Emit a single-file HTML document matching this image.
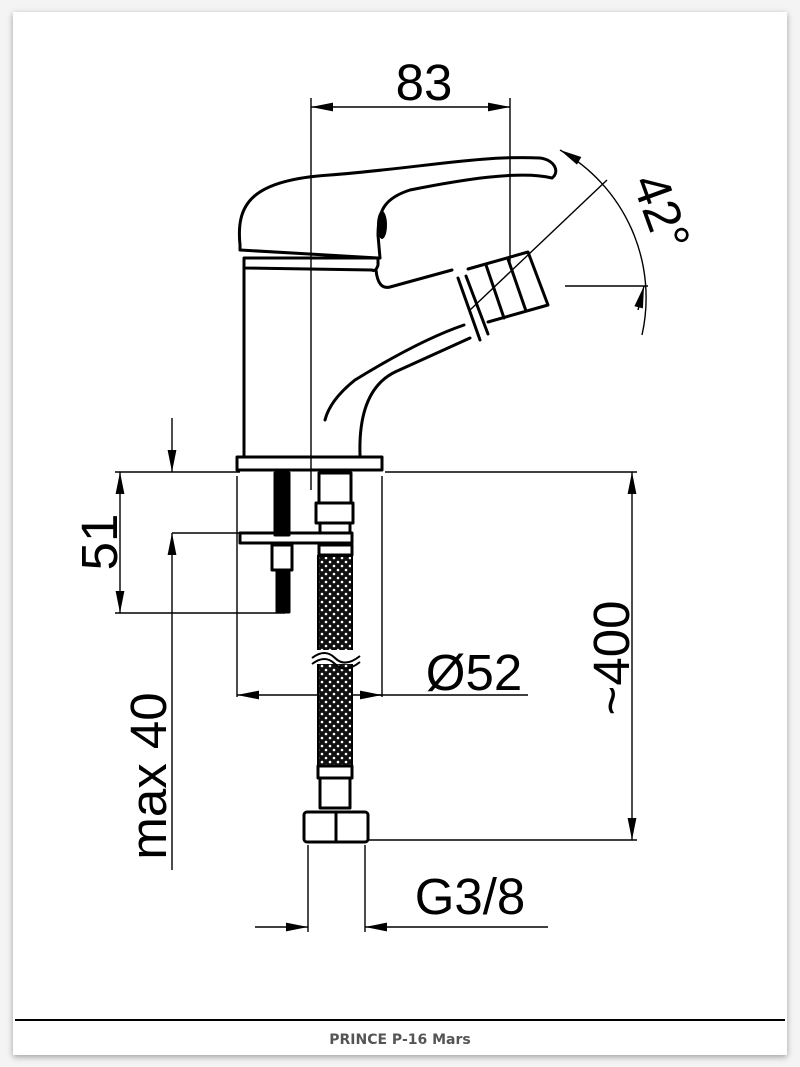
<!DOCTYPE html>
<html><head><meta charset="utf-8"><style>
html,body{margin:0;padding:0;background:#f4f4f4;}
body{width:800px;height:1067px;position:relative;overflow:hidden;}
.card{position:absolute;left:13px;top:12px;width:774px;height:1043px;background:#fff;box-shadow:0 2px 6px rgba(0,0,0,.35);}
svg{position:absolute;left:0;top:0;}
.cap{position:absolute;left:0;width:800px;top:1032px;text-align:center;font:bold 14px "DejaVu Sans","Liberation Sans",sans-serif;color:#555;}
</style></head><body>
<div class="card"></div>
<svg width="800" height="1067" viewBox="0 0 800 1067" xmlns="http://www.w3.org/2000/svg">
<defs>
<marker id="b" viewBox="0 0 20 10" refX="20" refY="5" markerWidth="24" markerHeight="11" markerUnits="userSpaceOnUse" orient="auto-start-reverse"><path d="M0,1 L20,5 L0,9z" fill="#000"/></marker>
<pattern id="mesh" width="8" height="8" patternUnits="userSpaceOnUse"><rect width="8" height="8" fill="#111"/><circle cx="2" cy="2" r="1.3" fill="#fff"/><circle cx="6" cy="6" r="1.3" fill="#fff"/></pattern>
</defs>
<g fill="none" stroke="#000" stroke-width="1.4">
<line x1="311" y1="98" x2="311" y2="490"/>
<line x1="510" y1="98" x2="510" y2="262"/>
<line x1="311" y1="107" x2="510" y2="107" marker-start="url(#b)" marker-end="url(#b)"/>
<line x1="470" y1="310" x2="607" y2="180"/>
<line x1="565" y1="286" x2="648" y2="286"/>
<path d="M560,150 A170,170 0 0 1 642,335" marker-start="url(#b)"/>
<line x1="638" y1="310" x2="644" y2="286" marker-end="url(#b)"/>
<line x1="115" y1="472" x2="240" y2="472"/>
<line x1="115" y1="613" x2="285" y2="613"/>
<line x1="120" y1="472" x2="120" y2="613" marker-start="url(#b)" marker-end="url(#b)"/>
<line x1="172" y1="418" x2="172" y2="472" marker-end="url(#b)"/>
<line x1="172" y1="870" x2="172" y2="533" marker-end="url(#b)"/>
<line x1="172" y1="533" x2="240" y2="533"/>
<line x1="237" y1="476" x2="237" y2="697"/>
<line x1="382" y1="476" x2="382" y2="697"/>
<line x1="237" y1="695" x2="528" y2="695" marker-start="url(#b)"/>
<line x1="360" y1="695" x2="382" y2="695" marker-end="url(#b)"/>
<line x1="385" y1="472" x2="637" y2="472"/>
<line x1="368" y1="840" x2="637" y2="840"/>
<line x1="632" y1="472" x2="632" y2="840" marker-start="url(#b)" marker-end="url(#b)"/>
<line x1="308" y1="845" x2="308" y2="932"/>
<line x1="365" y1="845" x2="365" y2="932"/>
<line x1="255" y1="927" x2="308" y2="927" marker-end="url(#b)"/>
<line x1="548" y1="927" x2="365" y2="927" marker-end="url(#b)"/>
</g>
<g fill="none" stroke="#000" stroke-width="3" stroke-linejoin="round" stroke-linecap="round">
<path d="M240,245 C236,205 250,180 330,175 C420,168 480,155 540,158 C555,160 560,172 552,178 C520,170 460,180 410,190 C385,198 378,210 378,235 L380,258"/>
<path d="M240,245 L240,250 L378,258"/>
<path d="M244,258 L378,258 L378,265 Q376,272 372,270 L244,268 Z"/>
<path d="M244,268 L244,455"/>
<path d="M376,270 Q378,290 390,287 L452,270"/>
<path d="M464,325 Q420,340 355,380 Q330,400 325,420"/>
<path d="M360,455 Q358,390 395,372 L470,338"/>
<path d="M237,457 L382,457 L382,470 L237,470 Z"/>
<path d="M458,278 L480,340 M466,276 L488,334"/>
<path d="M468,269 L528,252 L548,305 L488,322"/>
<line x1="486" y1="265" x2="504" y2="318"/><line x1="508" y1="259" x2="526" y2="311"/>
<rect x="275" y="473" width="14" height="62" fill="#000"/>
<rect x="240" y="533" width="112" height="10"/>
<rect x="272" y="545" width="20" height="25"/>
<rect x="277" y="570" width="12" height="42" fill="#000"/>
<rect x="319" y="473" width="32" height="30"/>
<rect x="316" y="503" width="37" height="20"/>
<rect x="320" y="523" width="30" height="10"/>
<rect x="319" y="545" width="33" height="10"/>
<rect x="318" y="766" width="34" height="12"/>
<rect x="320" y="778" width="30" height="30"/>
<rect x="304" y="812" width="64" height="30" rx="3"/>
<line x1="336" y1="812" x2="336" y2="842"/>
</g>
<rect x="318" y="556" width="34" height="210" fill="url(#mesh)" stroke="#000" stroke-width="2"/>
<rect x="310" y="650" width="50" height="14" fill="#fff"/>
<path d="M312,658 Q325,648 335,658 T360,656" fill="none" stroke="#000" stroke-width="2"/>
<path d="M312,664 Q325,654 335,664 T360,662" fill="none" stroke="#000" stroke-width="2"/>
<ellipse cx="382" cy="225" rx="5" ry="14" fill="#000"/>
<g font-family="Liberation Sans, Arial, sans-serif" font-size="51" fill="#000">
<text x="424" y="100" text-anchor="middle">83</text>
<text x="474" y="690" text-anchor="middle">Ø52</text>
<text x="470" y="914" text-anchor="middle">G3/8</text>
<text transform="translate(117,542) rotate(-90)" text-anchor="middle">51</text>
<text transform="translate(166,776) rotate(-90)" text-anchor="middle">max 40</text>
<text transform="translate(629,658) rotate(-90)" text-anchor="middle">~400</text>
<text transform="translate(645,218) rotate(70)" text-anchor="middle">42°</text>
</g>
<line x1="15" y1="1020" x2="785" y2="1020" stroke="#000" stroke-width="2"/>
</svg>
<div class="cap">PRINCE P-16 Mars</div>
</body></html>
